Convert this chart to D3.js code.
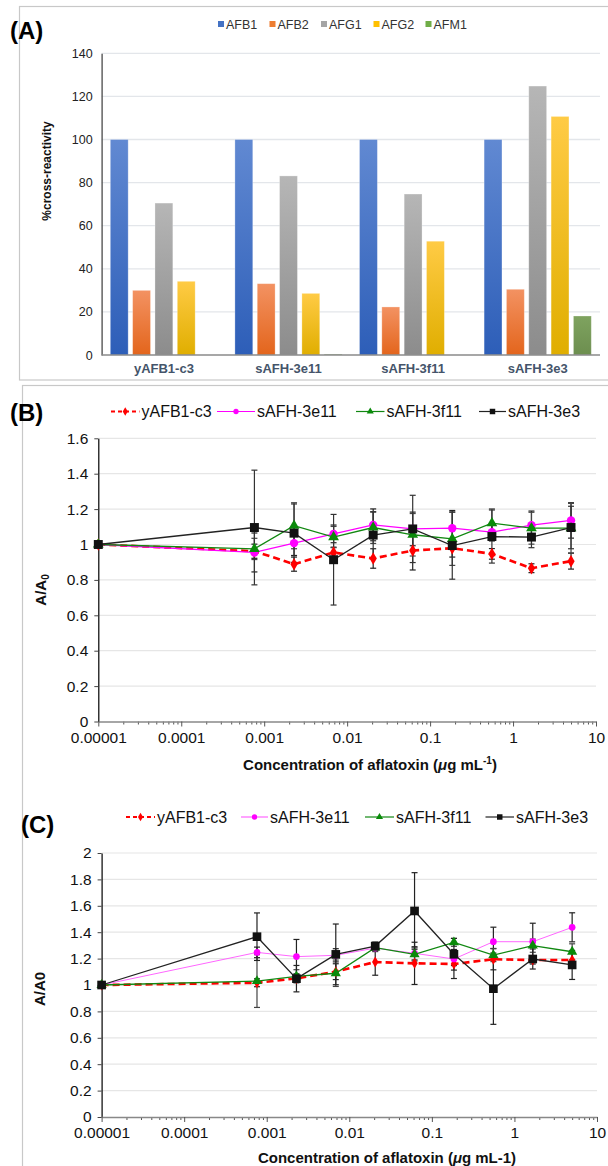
<!DOCTYPE html>
<html><head><meta charset="utf-8">
<script src="https://cdn.jsdelivr.net/npm/d3@7"></script>
<style>
body{margin:0;background:#fff}
svg{display:block}
text{font-family:"Liberation Sans",Arial,Helvetica,sans-serif}
</style></head>
<body><svg id="c" width="608" height="1166"></svg>
<script>
// ---------- DATA ----------
const groups = ["yAFB1-c3","sAFH-3e11","sAFH-3f11","sAFH-3e3"];
const toxins = ["AFB1","AFB2","AFG1","AFG2","AFM1"];
const afb1 = [100,100,100,100];
const afb2 = [30.0,33.1,22.3,30.5];
const afg1 = [70.5,83.1,74.7,124.8];
const afg2 = [34.2,28.6,52.8,110.7];
const afm1 = [0,0.4,0,18.1];
const yTicksA = [0,20,40,60,80,100,120,140];

const conc = [0.00001,0.000762,0.00229,0.00686,0.0206,0.0617,0.185,0.556,1.667,5];
const seriesNames = ["yAFB1-c3","sAFH-3e11","sAFH-3f11","sAFH-3e3"];
const xTickVals = [0.00001,0.0001,0.001,0.01,0.1,1,10];
const xTickLabels = ["0.00001","0.0001","0.001","0.01","0.1","1","10"];

// Panel B
const bRed   = [1,0.962,0.889,0.955,0.921,0.966,0.979,0.947,0.866,0.906];
const bRedE  = [0,0.04,0.04,0.03,0.055,0.11,0.05,0.03,0.025,0.045];
const bPink  = [1,0.955,1.008,1.06,1.111,1.088,1.092,1.07,1.109,1.136];
const bPinkE = [0,0.11,0.07,0.05,0.09,0.095,0.1,0.05,0.08,0.1];
const bGreen = [1,0.975,1.106,1.042,1.096,1.055,1.032,1.121,1.092,1.092];
const bGreenE= [0,0.06,0.13,0.06,0.09,0.12,0.15,0.08,0.09,0.14];
const bBlack = [1,1.096,1.064,0.914,1.053,1.088,0.994,1.045,1.042,1.096];
const bBlackE= [0,0.324,0.165,0.256,0.13,0.19,0.19,0.15,0.06,0.12];
const yTicksB = [0,0.2,0.4,0.6,0.8,1,1.2,1.4,1.6];
const yLabelsB = ["0","0.2","0.4","0.6","0.8","1","1.2","1.4","1.6"];

// Panel C
const cRed   = [1,1.017,1.05,1.101,1.174,1.164,1.159,1.195,1.189,1.189];
const cRedE  = [0,0.03,0.03,0.06,0.1,0.16,0.11,0.08,0.03,0.05];
const cPink  = [1,1.247,1.215,1.225,1.28,1.24,1.197,1.328,1.328,1.437];
const cPinkE = [0,0.04,0.13,0.05,0.02,0.05,0.05,0.11,0.14,0.11];
const cGreen = [1,1.03,1.066,1.089,1.283,1.232,1.323,1.227,1.298,1.252];
const cGreenE= [0,0.2,0.05,0.1,0.03,0.05,0.03,0.05,0.05,0.06];
const cBlack = [1,1.366,1.048,1.232,1.295,1.561,1.233,0.972,1.197,1.152];
const cBlackE= [0,0.18,0.1,0.23,0.03,0.29,0.12,0.27,0.076,0.11];
const yTicksC = [0,0.2,0.4,0.6,0.8,1,1.2,1.4,1.6,1.8,2];
const yLabelsC = ["0","0.2","0.4","0.6","0.8","1","1.2","1.4","1.6","1.8","2"];

// ---------- DRAW ----------
const svg = d3.select("#c");
const defs = svg.append("defs");

// panel boxes
svg.append("rect").attr("x",19.5).attr("y",6.5).attr("width",640).attr("height",373.5)
  .attr("fill","none").attr("stroke","#c8c8c8").attr("stroke-width",1.2);
svg.append("rect").attr("x",22.5).attr("y",385.5).attr("width",640).attr("height",820)
  .attr("fill","none").attr("stroke","#c8c8c8").attr("stroke-width",1.2);

// ===== Panel A =====
const toxColors = {
  AFB1:["#6189d2","#2d5eb8","#4472c4"],
  AFB2:["#f39262","#e3651c","#ed7d31"],
  AFG1:["#b6b6b6","#8c8c8c","#a5a5a5"],
  AFG2:["#ffcb45","#e0ae00","#ffc000"],
  AFM1:["#7fa35f","#6c8e4f","#70ad47"]
};
toxins.forEach(t=>{
  const g = defs.append("linearGradient").attr("id","g"+t).attr("x1",0).attr("y1",0).attr("x2",0).attr("y2",1);
  g.append("stop").attr("offset","0%").attr("stop-color",toxColors[t][0]);
  g.append("stop").attr("offset","100%").attr("stop-color",toxColors[t][1]);
});
const valsA = {AFB1:afb1,AFB2:afb2,AFG1:afg1,AFG2:afg2,AFM1:afm1};
const xA = d3.scaleBand().domain(groups).range([101.6,600]);
const xIn = d3.scaleBand().domain(toxins).range([0,xA.bandwidth()]).paddingInner(0.2).paddingOuter(0.39);
const yA = d3.scaleLinear().domain([0,140]).range([355,53.3]);
const gA = svg.append("g");
gA.selectAll("line.grid").data(yTicksA.filter(d=>d>0)).join("line")
  .attr("x1",101.6).attr("x2",600).attr("y1",d=>yA(d)).attr("y2",d=>yA(d))
  .attr("stroke","#e3e6ea").attr("stroke-width",1.3);
const axA = gA.append("g").attr("transform","translate(101.6,0)")
  .call(d3.axisLeft(yA).tickValues(yTicksA).tickSize(0).tickPadding(9));
axA.select(".domain").attr("stroke","#4a4a4a").attr("stroke-width",1.3);
axA.selectAll("text").attr("font-size",12.5).attr("fill","#222").attr("font-family","Liberation Sans, Arial, sans-serif");
groups.forEach((grp,gi)=>{
  toxins.forEach(t=>{
    const v = valsA[t][gi];
    if(v<=0) return;
    gA.append("rect").attr("x",xA(grp)+xIn(t)).attr("width",xIn.bandwidth())
      .attr("y",yA(v)).attr("height",yA(0)-yA(v)).attr("fill","url(#g"+t+")")
      .attr("stroke","#ffffff").attr("stroke-opacity",0.35).attr("stroke-width",0.8);
  });
});
gA.append("line").attr("x1",101.6).attr("x2",600).attr("y1",yA(0)).attr("y2",yA(0))
  .attr("stroke","#8a8a8a").attr("stroke-width",1.3);
gA.selectAll("text.cat").data(groups).join("text")
  .attr("x",d=>xA(d)+xA.bandwidth()/2).attr("y",372.5).attr("text-anchor","middle")
  .attr("font-size",13).attr("font-weight","bold").attr("fill","#44546a").text(d=>d);
gA.append("text").attr("transform","translate(51,171) rotate(-90)").attr("text-anchor","middle")
  .attr("font-size",12).attr("font-weight","bold").attr("fill","#111").text("%cross-reactivity");
// legend A
const legAx = [221,272.5,324,376.5,428.5];
toxins.forEach((t,i)=>{
  gA.append("rect").attr("x",legAx[i]-3).attr("y",21).attr("width",6).attr("height",6).attr("fill",toxColors[t][2]);
  gA.append("text").attr("x",legAx[i]+5).attr("y",28.5).attr("font-size",12.5).attr("fill","#333").text(t);
});
svg.append("text").attr("x",10).attr("y",39).attr("font-size",24).attr("font-weight","bold").text("(A)");

// ===== Line panels =====
const styles = [
  {color:"#ff0000", dash:"7,4", marker:"diamond"},
  {color:"#ff00ff", dash:null, marker:"circle"},
  {color:"#0a8a0a", dash:null, marker:"triangle"},
  {color:"#111111", dash:null, marker:"square"}
];
function markerPath(type, s){
  const sym = {diamond:d3.symbolDiamond, circle:d3.symbolCircle, triangle:d3.symbolTriangle, square:d3.symbolSquare}[type];
  return d3.symbol().type(sym).size(s)();
}
function linePanel(cfg){
  const g = svg.append("g");
  const x = d3.scaleLog().domain([0.00001,10]).range(cfg.xr);
  const y = d3.scaleLinear().domain([0,cfg.ymax]).range(cfg.yr);
  g.selectAll("line.grid").data(cfg.yTicks.filter(d=>d>0)).join("line")
    .attr("x1",cfg.xr[0]).attr("x2",cfg.xr[1]).attr("y1",d=>y(d)).attr("y2",d=>y(d))
    .attr("stroke","#e6e6e6").attr("stroke-width",1.2);
  const ay = g.append("g").attr("transform",`translate(${cfg.xr[0]},0)`)
    .call(d3.axisLeft(y).tickValues(cfg.yTicks).tickSize(4).tickSizeOuter(0).tickPadding(6).tickFormat((d,i)=>cfg.yLabels[i]));
  ay.select(".domain").attr("stroke","#000").attr("stroke-width",1.2);
  ay.selectAll(".tick line").attr("stroke","#444");
  ay.selectAll("text").attr("font-size",cfg.fs).attr("fill","#111").attr("font-family","Liberation Sans, Arial, sans-serif");
  const minor = [];
  for(let e=-5;e<1;e++) for(let m=2;m<=9;m++) minor.push(m*Math.pow(10,e));
  g.append("g").attr("transform",`translate(0,${cfg.yr[0]})`)
    .call(d3.axisBottom(x).tickValues(minor).tickSize(3).tickFormat(""))
    .call(a=>{a.select(".domain").remove(); a.selectAll("line").attr("stroke","#555");});
  const ax = g.append("g").attr("transform",`translate(0,${cfg.yr[0]})`)
    .call(d3.axisBottom(x).tickValues(xTickVals).tickSize(5).tickSizeOuter(0).tickPadding(5).tickFormat((d,i)=>xTickLabels[i]));
  ax.select(".domain").attr("stroke","#888").attr("stroke-width",1.6);
  ax.selectAll(".tick line").attr("stroke","#555");
  ax.selectAll("text").attr("font-size",cfg.fs).attr("fill","#111").attr("font-family","Liberation Sans, Arial, sans-serif");
  cfg.series.forEach((s,si)=>{
    const pts = conc.map((c,i)=>({x:x(c), v:s.v[i], e:s.e[i]}));
    pts.forEach(p=>{
      if(p.e<=0) return;
      const y1 = y(p.v+p.e), y2 = y(p.v-p.e);
      g.append("line").attr("x1",p.x).attr("x2",p.x).attr("y1",y1).attr("y2",y2).attr("stroke",cfg.errColor[si]).attr("stroke-width",1.2);
      [y1,y2].forEach(yy=>g.append("line").attr("x1",p.x-3).attr("x2",p.x+3).attr("y1",yy).attr("y2",yy).attr("stroke",cfg.errColor[si]).attr("stroke-width",1.2));
    });
  });
  cfg.series.forEach((s,si)=>{
    const st = styles[si];
    const pts = conc.map((c,i)=>[x(c), y(s.v[i])]);
    g.append("path").attr("d",d3.line()(pts)).attr("fill","none").attr("stroke",cfg.lineColor[si])
      .attr("stroke-width",cfg.lineW[si]).attr("stroke-dasharray",st.dash);
    pts.forEach(p=>{
      g.append("path").attr("d",markerPath(st.marker,cfg.msize[si])).attr("transform",`translate(${p[0]},${p[1]})`)
        .attr("fill",st.color);
    });
  });
  cfg.leg.forEach((L,si)=>{
    const st = styles[si];
    g.append("line").attr("x1",L[0]).attr("x2",L[1]).attr("y1",cfg.legY).attr("y2",cfg.legY)
      .attr("stroke",cfg.lineColor[si]).attr("stroke-width",si==0?2:1.2).attr("stroke-dasharray",si==0?"4,3":null);
    g.append("path").attr("d",markerPath(st.marker,si==3?30:22)).attr("transform",`translate(${(L[0]+L[1])/2},${cfg.legY})`).attr("fill",st.color);
    g.append("text").attr("x",L[1]+2).attr("y",cfg.legY+5.5).attr("font-size",cfg.legFs).attr("fill","#111").text(seriesNames[si]);
  });
  const yt = g.append("text").attr("transform",`translate(${cfg.ytX},${cfg.ytY}) rotate(-90)`).attr("text-anchor","middle")
    .attr("font-size",15).attr("font-weight","bold").attr("fill","#111");
  yt.append("tspan").text("A/A");
  if(cfg.sub){ yt.append("tspan").attr("font-size",10).attr("dy",3).text("0"); }
  else { yt.append("tspan").text("0"); }
  const xt = g.append("text").attr("x",cfg.xtX).attr("y",cfg.xtY).attr("text-anchor","middle")
    .attr("font-size",15).attr("font-weight","bold").attr("fill","#111");
  xt.append("tspan").text("Concentration of aflatoxin (");
  xt.append("tspan").attr("font-style","italic").text("μ");
  if(cfg.sub){
    xt.append("tspan").text("g mL");
    xt.append("tspan").attr("font-size",10).attr("dy",-6).text("-1");
    xt.append("tspan").attr("dy",6).text(")");
  } else {
    xt.append("tspan").text("g mL-1)");
  }
  svg.append("text").attr("x",cfg.lab[0]).attr("y",cfg.lab[1]).attr("font-size",24).attr("font-weight","bold").text(cfg.label);
}

linePanel({
  xr:[98.3,596], yr:[721.5,438.3], ymax:1.6, yTicks:yTicksB, yLabels:yLabelsB, fs:15.5,
  series:[{v:bRed,e:bRedE},{v:bPink,e:bPinkE},{v:bGreen,e:bGreenE},{v:bBlack,e:bBlackE}],
  errColor:["#222","#222","#444","#333"], lineColor:["#ff0000","#ff00ff","#118811","#222222"], lineW:[2.6,1.3,1.3,1.3],
  msize:[45,55,50,80],
  leg:[[111,139.5],[217,255],[356,384.5],[479,506]], legY:411.5, legFs:16,
  ytX:46, ytY:590, xtX:370, xtY:770, sub:true, lab:[10,421], label:"(B)"
});
linePanel({
  xr:[101.6,597], yr:[1117,853], ymax:2, yTicks:yTicksC, yLabels:yLabelsC, fs:15.5,
  series:[{v:cRed,e:cRedE},{v:cPink,e:cPinkE},{v:cGreen,e:cGreenE},{v:cBlack,e:cBlackE}],
  errColor:["#222","#222","#444","#222"], lineColor:["#ff0000","#ff66ff","#118811","#222222"], lineW:[2.6,1.0,1.3,1.3],
  msize:[35,35,45,75],
  leg:[[126,155],[241,268],[365,394],[485.5,514]], legY:817, legFs:16,
  ytX:45, ytY:989, xtX:387, xtY:1163, sub:false, lab:[21,833], label:"(C)"
});
</script></body></html>
